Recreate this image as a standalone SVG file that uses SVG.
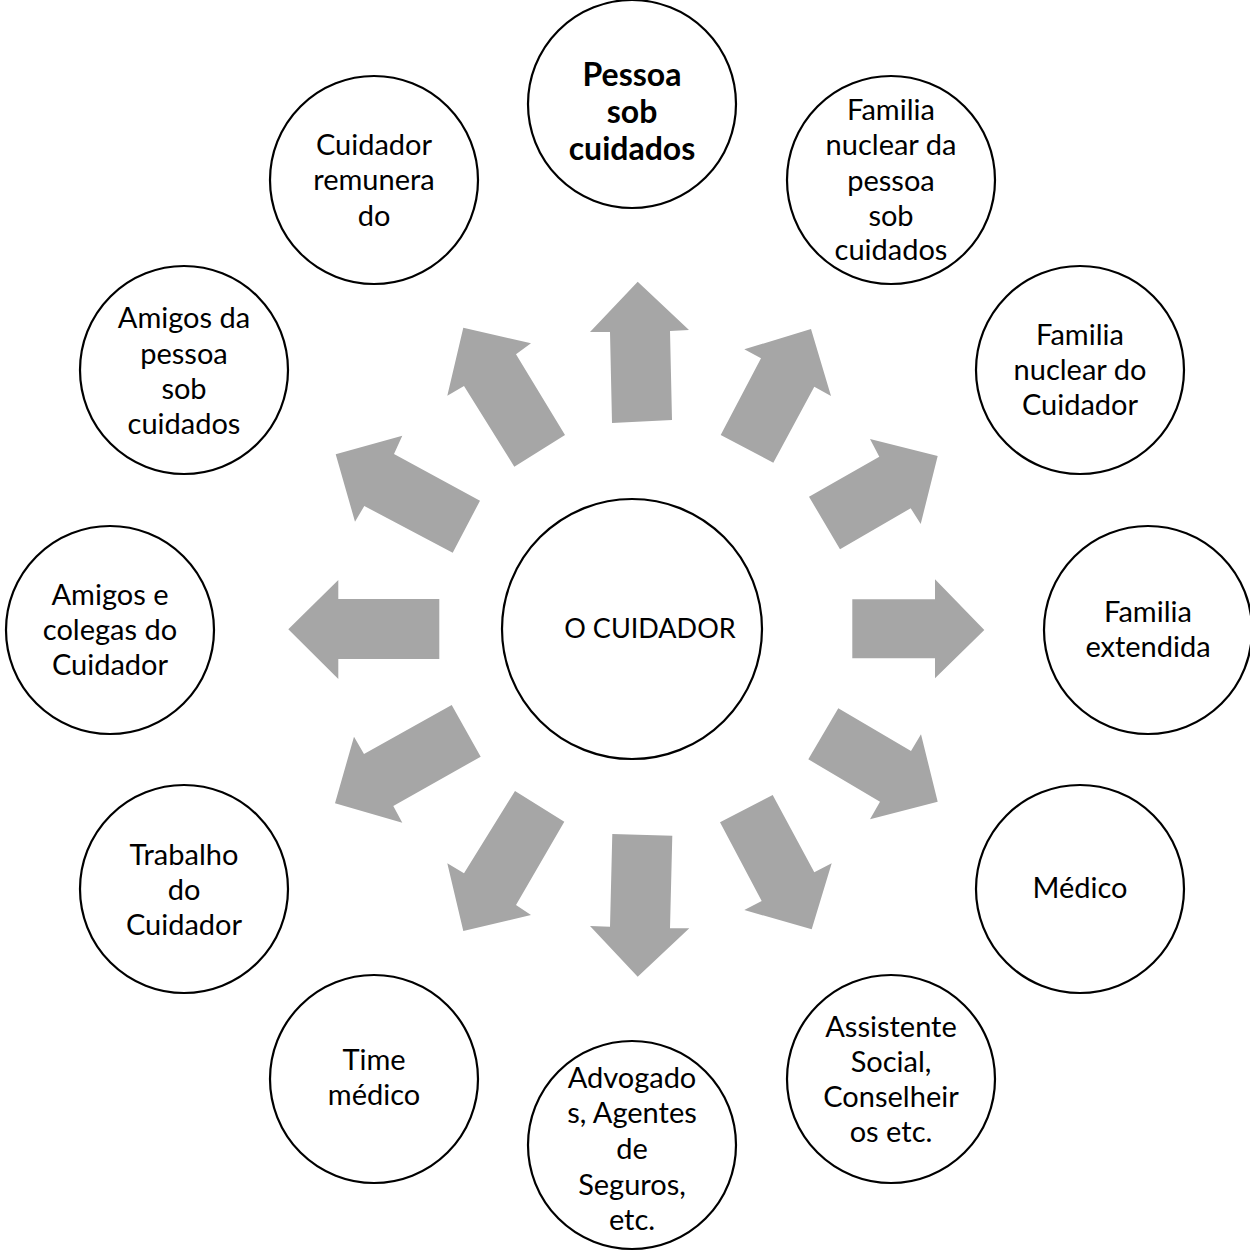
<svg xmlns="http://www.w3.org/2000/svg" width="1250" height="1251" viewBox="0 0 1250 1251">
<style>
.node circle{fill:#fff;stroke:#000;stroke-width:2.2}
.node text{font-family:Lato,"Liberation Sans",sans-serif;font-size:29px;fill:#000;text-anchor:middle}
.node text.b{font-weight:bold;font-size:32px}
.node text.c{font-size:27px}
.arr polygon{fill:#a6a6a6;stroke:none}
</style>
<rect width="1250" height="1251" fill="#fff"/>
<g id="connectors" class="arr">
<polygon points="612,423 610,332 590,332 637.7,281.7 689,330 670,331 672,420"/>
<polygon points="720.7,435 761,358.3 744.3,349.3 811,329 831,396 814.3,386.7 773.3,462.7"/>
<polygon points="809,496.7 879.3,456.7 870,439 937.7,456 920.7,524 910.7,508.3 840,549.3"/>
<polygon points="852.3,599.3 935,599.3 935,579.3 984.3,630 935,678.3 935,658.3 852.3,658.3"/>
<polygon points="838.3,708.3 911,751 921,734.3 937.7,801.7 870,819.3 880,801.7 808.3,759.3"/>
<polygon points="772.7,795 814.3,872.3 831.7,863.3 811.7,929.3 744.3,910 761.7,901 720,822.3"/>
<polygon points="612.3,834 672.3,835.7 670,928.3 689.3,928.3 637.7,976.7 590,926 610,926.7"/>
<polygon points="515,791 564.3,821.7 516,905 531,915 463.3,931 447.3,863.3 464,873.3"/>
<polygon points="451.7,705 480.7,756.7 393.3,806 402.3,822.7 335,803.3 354,736.7 364,754"/>
<polygon points="439.3,599 439.3,659 338.3,659 338.3,679 288.3,629.3 338.3,580 338.3,599"/>
<polygon points="452.7,552.7 480,500.7 394,454 402.3,435.7 335.7,454.3 355,521.7 364.3,506"/>
<polygon points="514.3,466.7 565,435 516,354.3 531,343.3 463.3,327.7 447.3,395.7 464,386"/>
</g>
<g id="n-center" class="node"><circle cx="632" cy="629" r="130"/><text class="c" x="650" y="638">O CUIDADOR</text></g>
<g id="n-pessoa" class="node"><circle cx="632" cy="104" r="104"/><text class="b" x="632" y="86">Pessoa</text><text class="b" x="632" y="123">sob</text><text class="b" x="632" y="160">cuidados</text></g>
<g id="n-fam-pessoa" class="node"><circle cx="891" cy="180" r="104"/><text x="891" y="120">Familia</text><text x="891" y="155">nuclear da</text><text x="891" y="191">pessoa</text><text x="891" y="226">sob</text><text x="891" y="260">cuidados</text></g>
<g id="n-fam-cuidador" class="node"><circle cx="1080" cy="370" r="104"/><text x="1080" y="345">Familia</text><text x="1080" y="380">nuclear do</text><text x="1080" y="415">Cuidador</text></g>
<g id="n-fam-ext" class="node"><circle cx="1148" cy="630" r="104"/><text x="1148" y="622">Familia</text><text x="1148" y="657">extendida</text></g>
<g id="n-medico" class="node"><circle cx="1080" cy="889" r="104"/><text x="1080" y="898">Médico</text></g>
<g id="n-assistente" class="node"><circle cx="891" cy="1079" r="104"/><text x="891" y="1037">Assistente</text><text x="891" y="1072">Social,</text><text x="891" y="1107">Conselheir</text><text x="891" y="1142">os etc.</text></g>
<g id="n-advogados" class="node"><circle cx="632" cy="1145" r="104"/><text x="632" y="1088">Advogado</text><text x="632" y="1123">s, Agentes</text><text x="632" y="1159">de</text><text x="632" y="1195">Seguros,</text><text x="632" y="1230">etc.</text></g>
<g id="n-time" class="node"><circle cx="374" cy="1079" r="104"/><text x="374" y="1070">Time</text><text x="374" y="1105">médico</text></g>
<g id="n-trabalho" class="node"><circle cx="184" cy="889" r="104"/><text x="184" y="865">Trabalho</text><text x="184" y="900">do</text><text x="184" y="935">Cuidador</text></g>
<g id="n-amigos-colegas" class="node"><circle cx="110" cy="630" r="104"/><text x="110" y="605">Amigos e</text><text x="110" y="640">colegas do</text><text x="110" y="675">Cuidador</text></g>
<g id="n-amigos-pessoa" class="node"><circle cx="184" cy="370" r="104"/><text x="184" y="328">Amigos da</text><text x="184" y="364">pessoa</text><text x="184" y="399">sob</text><text x="184" y="434">cuidados</text></g>
<g id="n-remunerado" class="node"><circle cx="374" cy="180" r="104"/><text x="374" y="155">Cuidador</text><text x="374" y="190">remunera</text><text x="374" y="226">do</text></g>
</svg>
